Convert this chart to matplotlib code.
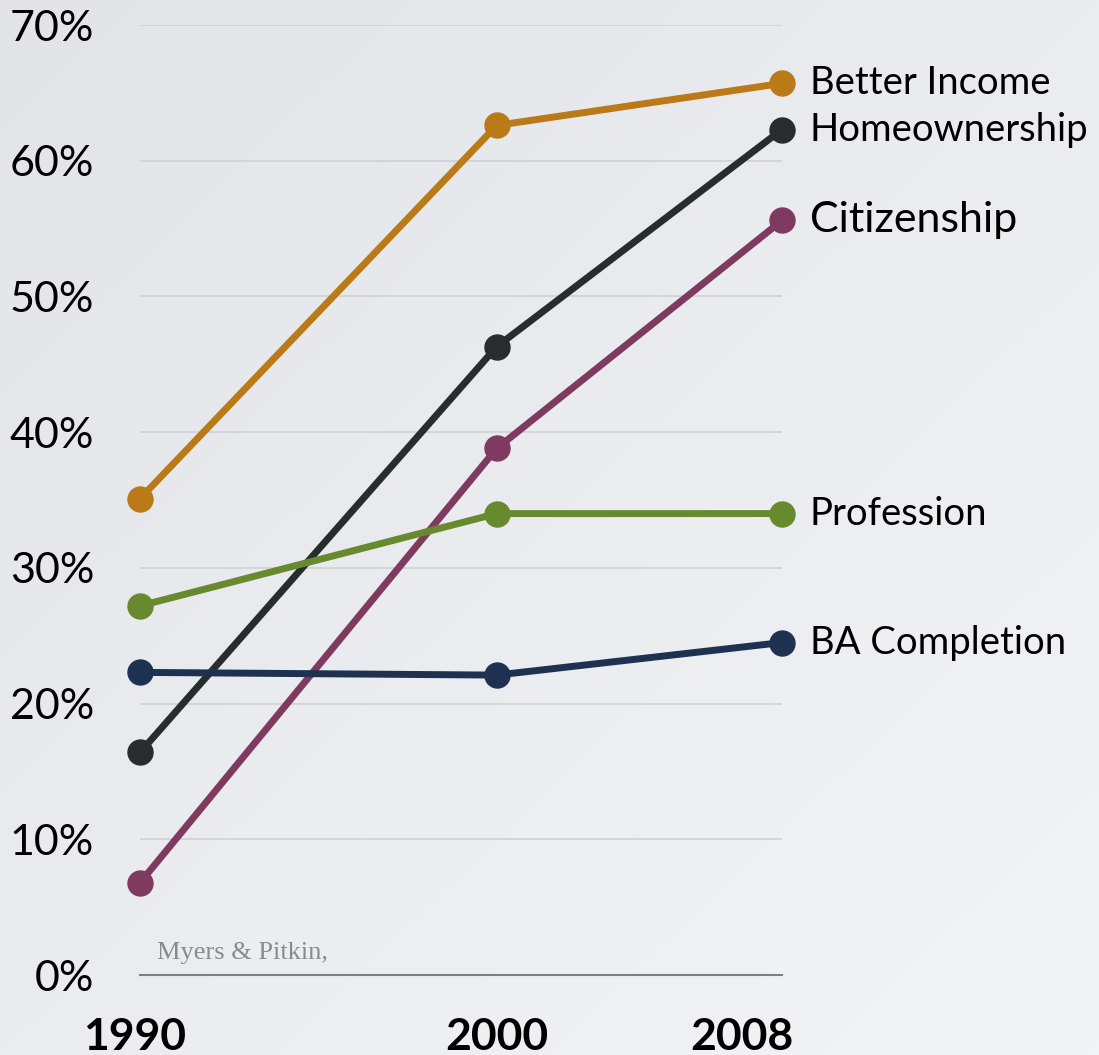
import numpy as np
import matplotlib
matplotlib.use("Agg")
import matplotlib.pyplot as plt
import matplotlib.transforms as mtransforms

years = [1990, 2000, 2008]
series_names = ["Better Income", "Homeownership", "Citizenship", "Profession", "BA Completion"]
better_income = [35.1, 62.6, 65.7]
homeownership = [16.4, 46.3, 62.3]
citizenship = [6.8, 38.8, 55.6]
profession = [27.2, 34.0, 34.0]
ba_completion = [22.3, 22.1, 24.5]
colors = ["#b97a17", "#272c2c", "#7e3a5f", "#678a2f", "#1e3150"]
label_sizes = [27.5, 27.5, 31, 27.5, 27.5]

y_ticks = [0, 10, 20, 30, 40, 50, 60, 70]
y_tick_labels = [f"{t}%" for t in y_ticks]

fig = plt.figure(figsize=(10.99, 10.55), dpi=100)

# soft gray gradient background
bg = fig.add_axes([0, 0, 1, 1], zorder=-10)
gx, gy = np.meshgrid(np.linspace(0, 1, 200), np.linspace(0, 1, 200))
grad = 0.5 * gx + 0.5 * gy
bg.imshow(grad, cmap=matplotlib.colors.LinearSegmentedColormap.from_list(
    "bg", ["#e2e4e8", "#f3f4f6"]), aspect="auto", extent=[0, 1, 0, 1])
bg.axis("off")

ax = fig.add_axes([0.1274, 0.0758, 0.5842, 0.9005])
ax.patch.set_visible(False)

all_series = [better_income, homeownership, citizenship, profession, ba_completion]
for name, vals, c, fs in zip(series_names, all_series, colors, label_sizes):
    ax.plot(years, vals, color=c, lw=5, marker="o", markersize=18,
            clip_on=False, zorder=3, solid_capstyle="round")
    ax.annotate(name, (years[-1], vals[-1]), xytext=(20, 0), textcoords="offset points",
                va="center", ha="left", fontsize=fs, family="Lato", color="black",
                annotation_clip=False)

ax.set_xlim(1990, 2008)
ax.set_ylim(0, 70)
ax.set_yticks(y_ticks)
ax.set_yticklabels(y_tick_labels, family="Lato", fontsize=31)
ax.yaxis.grid(True, color="#cfd1d5", lw=1.2)
ax.set_axisbelow(True)
ax.tick_params(axis="y", length=0, pad=33)

ax.set_xticks(years)
ax.set_xticklabels([str(y) for y in years], family="Lato", fontsize=32, fontweight="bold")
ax.tick_params(axis="x", length=0, pad=30)
xl = ax.get_xticklabels()
xl[0].set_transform(xl[0].get_transform() + mtransforms.ScaledTranslation(-5 / 100, 0, fig.dpi_scale_trans))
xl[-1].set_transform(xl[-1].get_transform() + mtransforms.ScaledTranslation(-40 / 100, 0, fig.dpi_scale_trans))

for s in ["top", "right", "left"]:
    ax.spines[s].set_visible(False)
ax.spines["bottom"].set_color("#7f7f7f")
ax.spines["bottom"].set_linewidth(1.5)

ax.text(0.027, 0.012, "Myers & Pitkin,", transform=ax.transAxes, family="Liberation Serif",
        fontsize=19, color="#8a8a8a", ha="left", va="bottom")

fig.savefig("out.png", dpi=100)
